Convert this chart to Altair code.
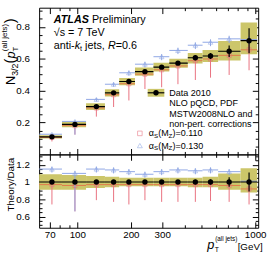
import altair as alt
import pandas as pd

FONT = "Liberation Sans"

# ---------------- data ----------------
bin_lo = [55, 82, 112, 143, 172, 211, 268, 329, 418, 506, 619, 828]
bin_hi = [82, 112, 143, 172, 211, 268, 329, 418, 506, 619, 828, 1026]
pt_center = [72, 97, 128, 160, 195, 240, 298, 368, 461, 561, 714, 924]
n32 = [0.110, 0.188, 0.300, 0.386, 0.457, 0.519, 0.547, 0.572, 0.606, 0.617, 0.647, 0.713]
stat_rel = [0.01, 0.012, 0.01, 0.01, 0.01, 0.012, 0.015, 0.02, 0.025, 0.03, 0.055, 0.11]
sys_up_rel = [0.09, 0.08, 0.07, 0.06, 0.05, 0.05, 0.05, 0.05, 0.05, 0.06, 0.10, 0.16]
sys_dn_rel = [0.09, 0.09, 0.07, 0.06, 0.05, 0.05, 0.05, 0.05, 0.06, 0.06, 0.09, 0.12]
# theory / data, alpha_s = 0.130
a130_ratio = [1.15, 1.10, 1.15, 1.14, 1.12, 1.09, 1.12, 1.14, 1.13, 1.14, 1.12, 1.01]
a130_lo = [1.11, 0.66, 1.11, 1.10, 1.08, 1.05, 1.08, 1.10, 1.09, 1.10, 1.08, 0.97]
a130_hi = [1.18, 1.13, 1.18, 1.17, 1.15, 1.12, 1.15, 1.17, 1.16, 1.17, 1.15, 1.04]
# theory / data, alpha_s = 0.110
a110_ratio = [0.97, 0.96, 0.97, 0.97, 0.97, 0.97, 0.97, 0.97, 0.97, 0.97, 0.96, 0.92]
a110_lo = [0.74, 0.66, 0.79, 0.77, 0.74, 0.79, 0.77, 0.77, 0.77, 0.78, 0.77, 0.74]
a110_hi = [1.00, 0.98, 0.99, 0.99, 0.99, 1.01, 1.00, 1.00, 1.00, 1.00, 1.00, 0.97]

# tick values
x_major = [70, 100, 200, 300, 1000]
x_minor = [80, 90, 400, 500, 600, 700, 800, 900]
top_major = [0.2, 0.4, 0.6, 0.8]
top_minor = [0.05, 0.1, 0.15, 0.25, 0.3, 0.35, 0.45, 0.5, 0.55, 0.65, 0.7, 0.75, 0.85, 0.9]
bot_major = [0.6, 0.8, 1.0, 1.2]
bot_minor = [0.5, 0.55, 0.65, 0.7, 0.75, 0.85, 0.9, 0.95, 1.05, 1.1, 1.15, 1.25, 1.3]

YEL = "#ccc66a"
RED = "#e8707e"
RED_H = "#e07a4a"
BLUE = "#8ea6e4"

W = 224
H_TOP = 150
H_BOT = 75

x_scale = alt.Scale(type="log", domain=[61, 1040], nice=False)
y_top = alt.Scale(domain=[0, 0.92], nice=False, zero=False)
y_bot = alt.Scale(domain=[0.47, 1.32], nice=False, zero=False)


def make_df(ref):
    rows = []
    for i in range(len(pt_center)):
        r = ref[i]
        rows.append(dict(
            lo=bin_lo[i], hi=bin_hi[i], pt=pt_center[i], c=r,
            st_lo=r * (1 - stat_rel[i]), st_hi=r * (1 + stat_rel[i]),
            sy_lo=r * (1 - sys_dn_rel[i]), sy_hi=r * (1 + sys_up_rel[i]),
            b=r * a130_ratio[i], b_lo=r * a130_lo[i], b_hi=r * a130_hi[i],
            rd=r * a110_ratio[i], rd_lo=r * a110_lo[i], rd_hi=r * a110_hi[i]))
    return pd.DataFrame(rows)


top_df = make_df(n32)
bot_df = make_df([1.0] * len(n32))
one = pd.DataFrame({"a": [0]})


def data_layers(df, ys):
    def X(f):
        return alt.X(f"{f}:Q", scale=x_scale, axis=None)

    def Y(f):
        return alt.Y(f"{f}:Q", scale=ys, axis=None)

    base = alt.Chart(df)
    return [
        base.mark_rect(color=YEL, clip=True).encode(x=X("lo"), x2="hi", y=Y("sy_lo"), y2="sy_hi"),
        base.mark_rule(color=RED_H, strokeWidth=1, clip=True).encode(x=X("lo"), x2="hi", y=Y("rd")),
        base.mark_rule(color=BLUE, strokeWidth=1, clip=True).encode(x=X("lo"), x2="hi", y=Y("b")),
        base.mark_rule(color=RED, strokeWidth=1, clip=True).encode(x=X("pt"), y=Y("rd_lo"), y2="rd_hi"),
        base.mark_rule(color=BLUE, strokeWidth=1, clip=True).encode(x=X("pt"), y=Y("b_lo"), y2="b_hi"),
        base.mark_point(shape="square", filled=False, color=RED, size=18, strokeWidth=0.8, clip=True).encode(x=X("pt"), y=Y("rd")),
        base.mark_point(shape="triangle-up", filled=False, color=BLUE, size=22, strokeWidth=0.8, clip=True).encode(x=X("pt"), y=Y("b")),
        base.mark_rule(color="black", strokeWidth=1.2, clip=True).encode(x=X("lo"), x2="hi", y=Y("c")),
        base.mark_rule(color="black", strokeWidth=1.2, clip=True).encode(x=X("pt"), y=Y("st_lo"), y2="st_hi"),
        base.mark_circle(color="black", size=30, opacity=1, clip=True).encode(x=X("pt"), y=Y("c")),
    ]


def axis_common(**kw):
    d = dict(domain=False, grid=False, labelFont=FONT, labelFontSize=10, labelColor="black",
             tickColor="black", tickWidth=1, title=None)
    d.update(kw)
    return alt.Axis(**d)


def ax_layer(df, ys, xaxis, yaxis):
    return alt.Chart(df).mark_point(opacity=0).encode(
        x=alt.X("pt:Q", scale=x_scale, axis=xaxis),
        y=alt.Y("c:Q", scale=ys, axis=yaxis))


def axis_layers(df, ys, H, y_major, y_minor, y_expr, x_labels):
    xlab = None
    if x_labels:
        xlab = axis_common(orient="bottom", values=x_major, ticks=False, tickSize=0,
                           labelPadding=2, labelExpr="'' + datum.value")
    layers = [ax_layer(df, ys, xlab, axis_common(orient="left", values=y_major, ticks=False,
                                                 tickSize=0, labelPadding=10, labelExpr=y_expr))]
    for size, xv, yv in [(6, x_major, y_major), (3, x_minor, y_minor)]:
        layers.append(ax_layer(
            df, ys,
            axis_common(orient="top", offset=-H, values=xv, tickSize=size, labels=False),
            axis_common(orient="right", offset=-W, values=yv, tickSize=size, labels=False)))
        layers.append(ax_layer(
            df, ys,
            axis_common(orient="bottom", offset=-H, values=xv, tickSize=size, labels=False),
            axis_common(orient="left", offset=-W, values=yv, tickSize=size, labels=False)))
    return layers


def txt(s, x, y, size=11, **kw):
    opts = dict(text=s, font=FONT, fontSize=size, align="left", baseline="middle", color="black")
    opts.update(kw)
    return alt.Chart(one).mark_text(**opts).encode(x=alt.value(x), y=alt.value(y))


def rtxt(s, x, y, size=12, **kw):
    opts = dict(text=s, font=FONT, fontSize=size, align="left", baseline="alphabetic",
                angle=270, color="black")
    opts.update(kw)
    return alt.Chart(one).mark_text(**opts).encode(x=alt.value(x), y=alt.value(y))


# ---------------- top panel ----------------
top_text = [
    # pin the layout origin
    alt.Chart(one).mark_rule(opacity=0).encode(x=alt.value(-38), y=alt.value(-4), y2=alt.value(0)),
    txt("ATLAS", 15, 13, 11, fontStyle="italic", fontWeight="bold"),
    txt("Preliminary", 54, 13, 11),
    txt("\u221as = 7 TeV", 15, 26, 11),
    txt("anti-", 15, 39, 11),
    txt("k", 36.4, 39, 11, fontStyle="italic"),
    txt("t", 41.9, 42, 7.5),
    txt("jets,", 47, 39, 11),
    txt("R", 70.4, 39, 11, fontStyle="italic"),
    txt("=0.6", 78.3, 39, 11),
    # legend
    alt.Chart(one).mark_rect(color=YEL).encode(x=alt.value(111), x2=alt.value(128),
                                               y=alt.value(83), y2=alt.value(91)),
    alt.Chart(one).mark_rule(color="black", strokeWidth=1.2).encode(x=alt.value(111), x2=alt.value(128),
                                                                     y=alt.value(87)),
    alt.Chart(one).mark_circle(color="black", size=30, opacity=1).encode(x=alt.value(119.5), y=alt.value(87)),
    txt("Data 2010", 133, 87, 9.2),
    txt("NLO pQCD, PDF", 133, 98, 9.2),
    txt("MSTW2008NLO and", 133, 108.5, 9.2),
    txt("non-pert. corrections", 133, 119, 9.2),
    alt.Chart(one).mark_point(shape="square", filled=False, color=RED, size=22, strokeWidth=0.8).encode(
        x=alt.value(103), y=alt.value(128.5)),
    alt.Chart(one).mark_point(shape="triangle-up", filled=False, color=BLUE, size=26, strokeWidth=0.8).encode(
        x=alt.value(103), y=alt.value(141)),
]
for yy, val in [(128.5, ")=0.110"), (141, ")=0.130")]:
    top_text += [
        txt("\u03b1", 112, yy, 9.2),
        txt("S", 117.4, yy + 2.5, 6.3),
        txt("(M", 121.7, yy, 9.2),
        txt("Z", 132.4, yy + 2.5, 6.3),
        txt(val, 136.4, yy, 9.2),
    ]
# rotated y title: N_{3/2}(p_T^{(all jets)})
top_text += [
    rtxt("N", -25, 79, 13),
    rtxt("3/2", -22, 69.6, 9),
    rtxt("(", -25, 57, 15),
    rtxt("p", -25, 52, 13, fontStyle="italic"),
    rtxt("T", -21.5, 44.8, 8),
    rtxt("(all jets)", -33, 44.5, 8),
    rtxt(")", -25, 16, 15),
]

top = alt.layer(
    *(data_layers(top_df, y_top)
      + axis_layers(top_df, y_top, H_TOP, top_major, top_minor, "format(datum.value, '.1f')", False)
      + top_text)
).resolve_axis(x="independent", y="independent").properties(width=W, height=H_TOP)

# ---------------- bottom panel ----------------
bot_text = [
    rtxt("Theory/Data", -26, 31, 10, align="center"),
    txt("p", 172, 97, 13, fontStyle="italic", baseline="alphabetic"),
    txt("T", 179.5, 99.5, 7, baseline="alphabetic"),
    txt("(all jets)", 180, 89, 6.5, baseline="alphabetic"),
    txt("[GeV]", 203, 97.5, 10, baseline="alphabetic"),
]
bot = alt.layer(
    *(data_layers(bot_df, y_bot)
      + axis_layers(bot_df, y_bot, H_BOT, bot_major, bot_minor,
                    "datum.value == 1 ? '1' : format(datum.value, '.1f')", True)
      + bot_text)
).resolve_axis(x="independent", y="independent").properties(width=W, height=H_BOT)

chart = alt.vconcat(top, bot, spacing=0, bounds="flush").properties(
    padding=0, background="white"
).configure_view(stroke="black", strokeWidth=1)

chart.save("out.html", embed_options={"renderer": "svg", "actions": False})
